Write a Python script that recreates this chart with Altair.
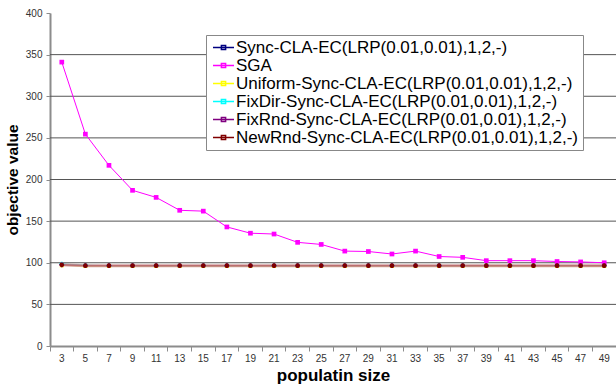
import altair as alt
import pandas as pd

# population sizes on the x axis
sizes = [3, 5, 7, 9, 11, 13, 15, 17, 19, 21, 23, 25,
         27, 29, 31, 33, 35, 37, 39, 41, 43, 45, 47, 49]

series_names = [
    "Sync-CLA-EC(LRP(0.01,0.01),1,2,-)",
    "SGA",
    "Uniform-Sync-CLA-EC(LRP(0.01,0.01),1,2,-)",
    "FixDir-Sync-CLA-EC(LRP(0.01,0.01),1,2,-)",
    "FixRnd-Sync-CLA-EC(LRP(0.01,0.01),1,2,-)",
    "NewRnd-Sync-CLA-EC(LRP(0.01,0.01),1,2,-)",
]
series_colors = ["#000080", "#ff00ff", "#ffff00", "#00ffff", "#800080", "#800000"]
series_shapes = ["diamond", "square", "triangle-up", "cross", "cross", "circle"]

sync_cla = [98.0, 96.5, 96.5, 96.5, 96.5, 96.5, 96.5, 96.5, 96.5, 96.5, 96.5, 96.5,
            96.5, 96.5, 96.5, 96.5, 96.5, 96.5, 96.5, 96.5, 96.5, 96.5, 96.5, 96.5]
sga = [341.0, 254.5, 217.0, 187.0, 178.5, 163.0, 162.0, 143.0, 135.5, 134.5, 124.5, 122.0,
       114.0, 113.5, 110.5, 114.0, 107.5, 106.5, 102.5, 102.5, 102.5, 101.5, 101.0, 100.0]
uniform_cla = [97.0, 96.0, 96.0, 96.0, 96.0, 96.0, 96.0, 96.0, 96.0, 96.0, 96.0, 96.0,
               96.0, 96.0, 96.0, 96.0, 96.0, 96.0, 96.0, 96.0, 96.0, 96.0, 96.0, 96.0]
fixdir_cla = [98.5, 97.0, 96.5, 96.5, 96.5, 96.5, 96.5, 96.5, 96.5, 96.5, 96.5, 96.5,
              96.5, 96.5, 96.5, 96.5, 96.5, 96.5, 96.5, 96.5, 96.5, 96.5, 96.5, 96.5]
fixrnd_cla = [97.5, 96.5, 96.5, 96.5, 96.5, 96.5, 96.5, 96.5, 96.5, 96.5, 96.5, 96.5,
              96.5, 96.5, 96.5, 96.5, 96.5, 96.5, 96.5, 96.5, 96.5, 96.5, 96.5, 96.5]
newrnd_cla = [97.5, 96.5, 96.5, 96.5, 96.5, 96.5, 96.5, 96.5, 96.5, 96.5, 96.5, 96.5,
              96.5, 96.5, 96.5, 96.5, 96.5, 96.5, 96.5, 96.5, 96.5, 96.5, 96.5, 96.5]

y_ticks = [0, 50, 100, 150, 200, 250, 300, 350, 400]
grid_values = [50, 100, 150, 200, 250, 300, 350]

all_values = [sync_cla, sga, uniform_cla, fixdir_cla, fixrnd_cla, newrnd_cla]
rows = []
for order, (name, vals) in enumerate(zip(series_names, all_values)):
    for s, v in zip(sizes, vals):
        rows.append({"size": s, "value": v, "series": name, "order": order})
df = pd.DataFrame(rows)
grid_df = pd.DataFrame({"g": grid_values})

FONT = "Liberation Sans"
AXIS_GRAY = "#8c8c8c"

x_enc = alt.X(
    "size:O",
    bandPosition=0.5,
    scale=alt.Scale(type="band", paddingInner=0, paddingOuter=0),
    axis=alt.Axis(
        title="populatin size", labelAngle=0, bandPosition=0, grid=False,
        tickSize=5, labelPadding=2, titlePadding=4,
        titleFontSize=17, titleFontWeight="bold", titleFont=FONT,
    ),
)
y_scale = alt.Scale(domain=[0, 400], nice=False)
y_enc = alt.Y(
    "value:Q",
    scale=y_scale,
    axis=alt.Axis(
        title="objective value", values=y_ticks, grid=False,
        tickSize=4, labelPadding=4, titlePadding=5,
        titleFontSize=15.5, titleFontWeight="bold", titleFont=FONT,
    ),
)
color_scale = alt.Scale(domain=series_names, range=series_colors)

gridlines = alt.Chart(grid_df).mark_rule(color="#555555", strokeWidth=1).encode(
    y=alt.Y("g:Q", scale=y_scale)
)

# thin series lines; the legend is built from this layer only
lines = alt.Chart(df).mark_line(strokeWidth=1).encode(
    x=x_enc,
    y=y_enc,
    color=alt.Color(
        "series:N",
        scale=color_scale,
        legend=alt.Legend(
            title=None, orient="none", legendX=156, legendY=22,
            symbolType="M-1.5,0H1.5M-0.3,-0.3H0.3V0.3H-0.3Z",
            symbolSize=196, symbolStrokeWidth=1.5, symbolOffset=5,
            fillColor="white", strokeColor="#888888", padding=4,
            labelFont=FONT, labelFontSize=17, labelColor="#000000",
            labelOffset=4, rowPadding=0, labelLimit=600,
        ),
    ),
    order="order:Q",
)

band = alt.Chart(df).transform_filter(
    alt.datum.series == series_names[5]
).mark_line(strokeWidth=3, color="#c98a8a", opacity=0.8).encode(
    x=x_enc, y=y_enc
)

# markers keyed by series index so their scales stay apart from the legend
points = alt.Chart(df).mark_point(filled=True, size=22, opacity=1).encode(
    x=x_enc,
    y=y_enc,
    fill=alt.Fill("order:O", scale=alt.Scale(range=series_colors), legend=None),
    shape=alt.Shape("order:O", scale=alt.Scale(range=series_shapes), legend=None),
    order="order:Q",
)

chart = alt.layer(gridlines, lines, band, points).properties(
    width=566,
    height=333,
    autosize=alt.AutoSizeParams(type="none"),
    padding={"left": 50, "top": 13, "right": 0, "bottom": 39},
    background="white",
).configure_view(
    stroke=None
).configure_axis(
    domainColor=AXIS_GRAY, domainWidth=2,
    tickColor=AXIS_GRAY, tickWidth=1,
    labelFont=FONT, labelFontSize=10, labelColor="#333333",
    titleColor="#000000",
)

chart.save("out.html", embed_options={"renderer": "svg", "actions": False})
